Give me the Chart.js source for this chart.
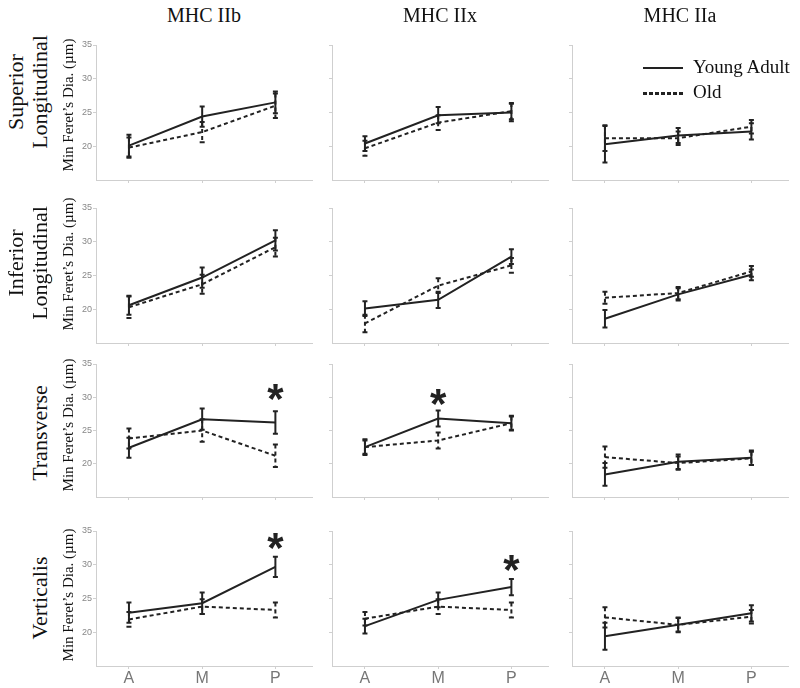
<!DOCTYPE html>
<html>
<head>
<meta charset="utf-8">
<script src="https://cdn.jsdelivr.net/npm/chart.js@4.4.0/dist/chart.umd.min.js"></script>
<style>
  body { margin: 0; background: #fff; }
  #wrap { position: relative; width: 800px; height: 688px; overflow: hidden; font-family: 'Liberation Serif', serif; color: #111; }
  #wrap canvas { position: absolute; }
  .lbl { position: absolute; white-space: nowrap; transform: translate(-50%, -50%); }
  .rot { transform: translate(-50%, -50%) rotate(-90deg); text-align: center; }
</style>
</head>
<body>
<div id="wrap"></div>
<script>
var categories = ['A', 'M', 'P'];
var fibreTypes = ['MHC IIb', 'MHC IIx', 'MHC IIa'];
var muscles = [['Superior', 'Longitudinal'], ['Inferior', 'Longitudinal'], ['Transverse'], ['Verticalis']];
var seriesNames = ['Young Adult', 'Old'];
var yTicks = [20, 25, 30, 35];
var yLabel = 'Min Feret\u2019s Dia. (\u00b5m)';

// [muscle row][fibre type column][A, M, P]
var youngMean = [
  [[20.1, 24.4, 26.5], [20.4, 24.6, 25.0], [20.3, 21.6, 22.2]],
  [[20.6, 24.7, 30.2], [20.1, 21.4, 27.8], [18.6, 22.2, 25.1]],
  [[22.4, 26.7, 26.2], [22.5, 26.8, 26.1], [18.4, 20.3, 20.9]],
  [[22.9, 24.3, 29.7], [20.9, 24.8, 26.7], [19.4, 21.1, 22.8]]
];
var youngErr = [
  [[1.6, 1.5, 1.6], [1.1, 1.2, 1.3], [2.7, 1.1, 1.2]],
  [[1.4, 1.5, 1.5], [1.1, 1.2, 1.1], [1.3, 0.9, 0.8]],
  [[1.5, 1.6, 1.7], [1.2, 1.2, 1.1], [1.7, 1.1, 1.1]],
  [[1.5, 1.6, 1.5], [1.1, 1.1, 1.2], [2.0, 1.1, 1.2]]
];
var oldMean = [
  [[19.8, 22.1, 26.0], [19.7, 23.5, 25.2], [21.2, 21.2, 22.9]],
  [[20.3, 23.7, 29.2], [17.9, 23.5, 26.5], [21.7, 22.4, 25.6]],
  [[23.8, 25.0, 21.2], [22.5, 23.5, 26.1], [21.0, 20.1, 20.8]],
  [[21.9, 23.8, 23.3], [22.0, 23.8, 23.3], [22.2, 21.1, 22.3]]
];
var oldErr = [
  [[1.5, 1.5, 1.8], [1.1, 1.1, 1.2], [1.9, 1.0, 1.0]],
  [[1.6, 1.4, 1.4], [1.3, 1.1, 1.1], [0.9, 0.9, 0.8]],
  [[1.5, 1.7, 1.7], [1.0, 1.2, 1.0], [1.6, 1.0, 1.0]],
  [[1.1, 1.1, 1.1], [1.0, 1.1, 1.1], [1.5, 1.0, 1.0]]
];
// significance markers: [row, column, category index, y value]
var stars = [[2, 0, 2, 30.8], [2, 1, 1, 30.0], [3, 0, 2, 33.5], [3, 1, 2, 30.2]];

// layout of the plot areas (page pixels)
var colLeft = [96, 332, 572];
var plotW = 216;
var rowTop = [45, 208, 364, 531];
var rowBottom = [180, 343, 497, 666];
var axisW = 30, axisH = 24, padTop = 8, padRight = 8;

var wrap = document.getElementById('wrap');

function addLabel(html, x, y, size, rotate, lineH) {
  var d = document.createElement('div');
  d.className = 'lbl' + (rotate ? ' rot' : '');
  d.style.left = x + 'px';
  d.style.top = y + 'px';
  d.style.fontSize = size + 'px';
  if (lineH) d.style.lineHeight = lineH + 'px';
  d.innerHTML = html;
  wrap.appendChild(d);
  return d;
}

var errorBars = {
  id: 'errorBars',
  afterDatasetsDraw: function(chart) {
    var ctx = chart.ctx, xs = chart.scales.x, ys = chart.scales.y;
    chart.data.datasets.forEach(function(ds) {
      ctx.save();
      ctx.strokeStyle = ds.borderColor;
      ctx.lineWidth = 2;
      ds.data.forEach(function(p, j) {
        var x = xs.getPixelForValue(p.x);
        var t = ys.getPixelForValue(p.y + ds.errors[j]);
        var b = ys.getPixelForValue(p.y - ds.errors[j]);
        ctx.setLineDash(ds.borderDash || []);
        ctx.beginPath(); ctx.moveTo(x, t); ctx.lineTo(x, b); ctx.stroke();
        ctx.setLineDash([]);
        ctx.beginPath();
        ctx.moveTo(x - 2.5, t); ctx.lineTo(x + 2.5, t);
        ctx.moveTo(x - 2.5, b); ctx.lineTo(x + 2.5, b);
        ctx.stroke();
      });
      ctx.restore();
    });
  }
};

var starMarks = {
  id: 'starMarks',
  afterDraw: function(chart, args, opts) {
    var ctx = chart.ctx;
    (opts.marks || []).forEach(function(m) {
      var x = chart.scales.x.getPixelForValue(m[0]);
      var y = chart.scales.y.getPixelForValue(m[1]);
      ctx.save();
      ctx.font = 'bold 42px "Liberation Sans"';
      ctx.fillStyle = '#222';
      ctx.textAlign = 'center';
      ctx.textBaseline = 'alphabetic';
      var mt = ctx.measureText('*');
      ctx.fillText('*', x, y + (mt.actualBoundingBoxAscent - mt.actualBoundingBoxDescent) / 2);
      ctx.restore();
    });
  }
};

function points(vals) {
  return vals.map(function(v, i) { return { x: i, y: v }; });
}

for (var r = 0; r < muscles.length; r++) {
  for (var c = 0; c < fibreTypes.length; c++) {
    var h = rowBottom[r] - rowTop[r];
    var cv = document.createElement('canvas');
    cv.width = axisW + plotW + padRight;
    cv.height = padTop + h + axisH;
    cv.style.left = (colLeft[c] - axisW) + 'px';
    cv.style.top = (rowTop[r] - padTop) + 'px';
    wrap.appendChild(cv);

    var marks = stars.filter(function(s) { return s[0] === r && s[1] === c; })
                     .map(function(s) { return [s[2], s[3]]; });
    var showY = c === 0, showX = r === muscles.length - 1;

    new Chart(cv.getContext('2d'), {
      type: 'line',
      data: {
        datasets: [
          { label: seriesNames[0], data: points(youngMean[r][c]), errors: youngErr[r][c],
            borderColor: '#222', borderWidth: 2, pointRadius: 0, tension: 0 },
          { label: seriesNames[1], data: points(oldMean[r][c]), errors: oldErr[r][c],
            borderColor: '#222', borderWidth: 2, borderDash: [4, 3], pointRadius: 0, tension: 0 }
        ]
      },
      options: {
        responsive: false,
        animation: false,
        events: [],
        layout: { padding: { top: padTop, right: padRight, left: 0, bottom: 0 } },
        plugins: { legend: { display: false }, tooltip: { enabled: false }, starMarks: { marks: marks } },
        scales: {
          x: {
            type: 'linear', min: -0.45, max: 2.5,
            afterBuildTicks: function(s) { s.ticks = categories.map(function(k, i) { return { value: i }; }); },
            afterFit: function(s) { s.height = axisH; },
            grid: { drawOnChartArea: false, tickLength: 3, color: '#d0d0d0' },
            border: { color: '#cfcfcf', width: 1 },
            ticks: { display: showX, padding: 0, color: '#777', maxRotation: 0,
                     font: { family: 'Liberation Sans', size: 16 },
                     callback: function(v) { return categories[v]; } }
          },
          y: {
            min: 15, max: 35,
            afterBuildTicks: function(s) { s.ticks = yTicks.map(function(v) { return { value: v }; }); },
            afterFit: function(s) { s.width = axisW; },
            grid: { drawOnChartArea: false, tickLength: 3, color: '#d0d0d0' },
            border: { color: '#cfcfcf', width: 1 },
            ticks: { display: showY, padding: 1, color: '#888',
                     font: { family: 'Liberation Sans', size: 9 } }
          }
        }
      },
      plugins: [errorBars, starMarks]
    });
  }
}

// column titles
fibreTypes.forEach(function(t, c) {
  addLabel(t, colLeft[c] + plotW / 2, 15, 20);
});

// row labels
var muscleX = [28, 28, 40, 40];
var muscleY = [92, 263, 433, 598];
var unitY = [105, 264, 425, 595];
muscles.forEach(function(m, r) {
  addLabel(m.join('<br>'), muscleX[r], muscleY[r], 22, true, 24);
  addLabel(yLabel, 68, unitY[r], 15, true);
});

// legend
var legendY = [68, 93];
seriesNames.forEach(function(n, i) {
  var s = document.createElement('div');
  s.style.position = 'absolute';
  s.style.left = '643px';
  s.style.width = '40px';
  s.style.top = (legendY[i] - 1) + 'px';
  s.style.height = i === 0 ? '2px' : '3px';
  s.style.background = i === 0 ? '#222' : 'repeating-linear-gradient(90deg, #222 0 4px, transparent 4px 6px)';
  wrap.appendChild(s);
  var t = addLabel(n, 693, legendY[i] - 1, 19);
  t.style.transform = 'translate(0, -50%)';
});
</script>
</body>
</html>
